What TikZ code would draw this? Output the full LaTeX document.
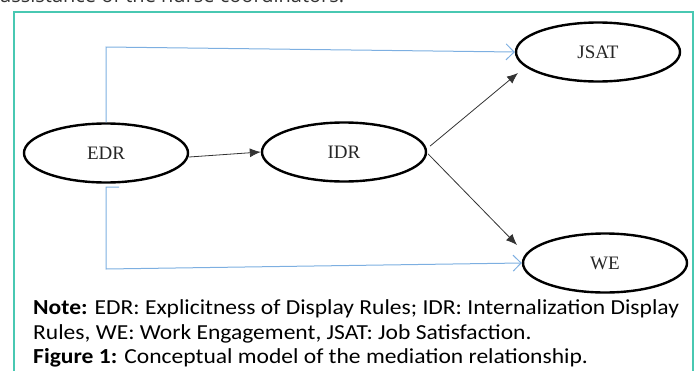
\documentclass[tikz,border=0pt]{standalone}
\usepackage{fontspec}
\setmainfont{Liberation Serif}
\newfontfamily\notefont[FakeStretch=1.1]{Carlito}
\newfontfamily\bodyfont{Open Sans}
\usetikzlibrary{arrows.meta,shapes.geometric}
\definecolor{framecol}{RGB}{72,200,178}
\definecolor{linkblue}{RGB}{125,175,225}

\begin{document}
\begin{tikzpicture}[x=1pt,y=-1pt,
        var/.style={ellipse, draw, line width=2.4pt, minimum width=164pt, minimum height=59pt, inner sep=0pt, text=black!85, font=\fontsize{19}{19}\selectfont},
        effect/.style={-{Latex[length=11pt,width=9pt]}, line width=0.8pt, draw=black!80},
        direct/.style={-{Straight Barb[length=8pt,width=16pt]}, draw=linkblue, line width=1pt},
        noteline/.style={anchor=base west, inner sep=0pt, text=black, font=\notefont\fontsize{21.4}{21.4}\selectfont}]
        \useasboundingbox (0,0) rectangle (697,370);

        \node[anchor=base west, inner sep=0pt, text=black!80, font=\bodyfont\fontsize{20}{20}\selectfont] (body) at (0,2) {assistance of the nurse coordinators.};
        \draw[framecol, line width=1.5pt] (14,380) -- (14,12) -- (693,12) -- (693,380);

        \node[var] (edr) at (106,153) {EDR};
        \node[var] (idr) at (344,152) {IDR};
        \node[var] (jsat) at (598,52) {JSAT};
        \node[var] (we) at (605,263) {WE};

        % free ends of the arrows
        \coordinate (tick) at (119,187);
        \coordinate (jsatin) at (518,73);
        \coordinate (wein) at (517,245);

        \draw[direct] (edr.north) -- (106,47) -- (jsat.west);
        \draw[direct] (tick) -- (106,187) -- (106,269) -- (we.west);

        \draw[effect] (edr.east) ++(0,4) -- (idr.west);
        \draw[effect] (idr.east) ++(3,-6) -- (jsatin);
        \draw[effect] (idr.east) ++(1,2) -- (wein);

        \node[noteline] (note1) at (33,314) {\textbf{Note:} EDR: Explicitness of Display Rules; IDR: Internalization Display};
        \node[noteline] (note2) at (33,339) {Rules, WE: Work Engagement, JSAT: Job Satisfaction.};
        \node[noteline] (note3) at (33,363) {\textbf{Figure 1:} Conceptual model of the mediation relationship.};
    \end{tikzpicture}
\end{document}
